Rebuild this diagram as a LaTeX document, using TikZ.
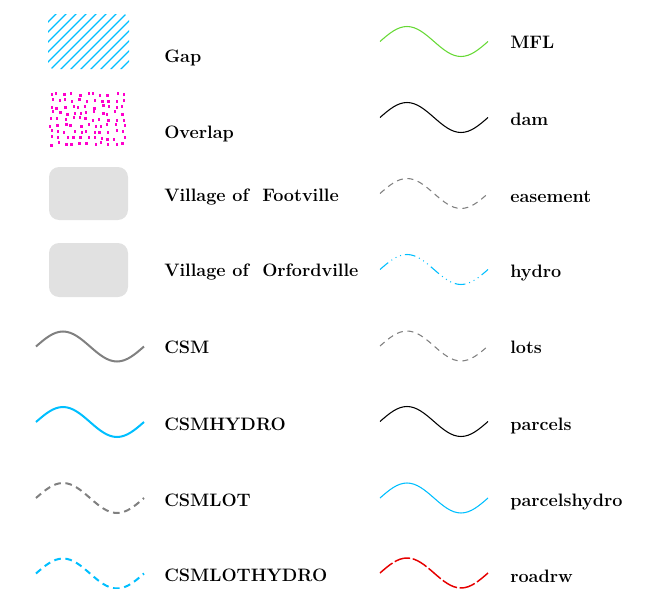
\documentclass[tikz,border=0pt]{standalone}
\definecolor{hcyan}{HTML}{00BFFF}
\definecolor{mfl}{HTML}{66D935}
\definecolor{csmgrey}{HTML}{808080}
\definecolor{vill}{HTML}{E1E1E1}
\definecolor{ovl}{HTML}{FF00CC}
\definecolor{road}{HTML}{E60000}
\begin{document}
\begin{tikzpicture}[x=0.75pt,y=-0.75pt,
  lbl/.style={anchor=base west, inner sep=0pt, font=\fontsize{13.5}{16}\selectfont\bfseries},
  villbox/.style={fill=vill, rounded corners=7.5pt},
  hatchline/.style={draw=hcyan, line width=0.85pt},
  ovdot/.style={fill=ovl},
  csm/.style={draw=csmgrey, line width=1.5pt},
  csmhydro/.style={draw=hcyan, line width=1.5pt},
  csmlot/.style={draw=csmgrey, line width=1.5pt, dash pattern=on 5pt off 3.5pt},
  csmlothydro/.style={draw=hcyan, line width=1.5pt, dash pattern=on 5pt off 3.5pt},
  mflline/.style={draw=mfl, line width=0.8pt},
  damline/.style={draw=black, line width=0.8pt},
  easeline/.style={draw=csmgrey, line width=0.8pt, dash pattern=on 4.5pt off 3.5pt},
  hydroline/.style={draw=hcyan, line width=0.8pt, dash pattern=on 8pt off 3pt on 0.7pt off 3pt on 0.7pt off 3pt on 0.7pt off 3pt},
  lotsline/.style={draw=csmgrey, line width=0.8pt, dash pattern=on 4.5pt off 3.5pt},
  parcline/.style={draw=black, line width=0.8pt},
  parchydro/.style={draw=hcyan, line width=0.8pt},
  roadline/.style={draw=road, line width=1.1pt, dash pattern=on 12pt off 2pt}]
\useasboundingbox (0,0) rectangle (654,589);

% Gap hatch
\begin{scope}
  \clip[rounded corners=4.5pt] (48,14) rectangle (129,69);
  \foreach \k in {-62,-52,...,130} \draw[hatchline] (\k,72) -- ++(62,-62);
\end{scope}

% Overlap dots
\pgfmathsetseed{5}
\foreach \j in {0,...,8}{
  \foreach \i in {0,...,10}{
    \pgfmathsetmacro\dx{50+\i*7.2+2.4*rand}
    \pgfmathsetmacro\dy{93+\j*6.2+1.6*rand}
    \fill[ovdot] (\dx,\dy) rectangle ++(2.3,3);
  }
}

% village boxes
\fill[villbox] (49,167) rectangle (128,220);
\fill[villbox] (49,243) rectangle (128,297);

% waves
\foreach \x/\y/\s in {36/346.5/csm, 36/422/csmhydro, 36/498/csmlot, 36/573.5/csmlothydro,
  380/41.5/mflline, 380/117.5/damline, 380/193.5/easeline, 380/269.5/hydroline,
  380/346/lotsline, 380/421.5/parcline, 380/498/parchydro, 380/573/roadline}
  \draw[\s] (\x,\y) sin ++(27,-15) cos ++(27,15) sin ++(27,15) cos ++(27,-15);

% labels
\node[lbl] (gap) at (164,62) {Gap};
\node[lbl] (overlap) at (164,138) {Overlap};
\node[lbl] (foot) at (164,201) {Village of\ \ Footville};
\node[lbl] (orf) at (164,276) {Village of\ \ Orfordville};
\node[lbl] (csm) at (164,353) {CSM};
\node[lbl] (csmhyd) at (164,430) {CSMHYDRO};
\node[lbl] (csmlot) at (164,506) {CSMLOT};
\node[lbl] (csmlothyd) at (164,581) {CSMLOTHYDRO};
\node[lbl] (mfl) at (510,48) {MFL};
\node[lbl] (dam) at (510,125) {dam};
\node[lbl] (ease) at (510,202) {easement};
\node[lbl] (hydro) at (510,277) {hydro};
\node[lbl] (lots) at (510,353) {lots};
\node[lbl] (parc) at (510,430) {parcels};
\node[lbl] (parch) at (510,506) {parcelshydro};
\node[lbl] (roadrw) at (510,582) {roadrw};
\end{tikzpicture}
\end{document}
